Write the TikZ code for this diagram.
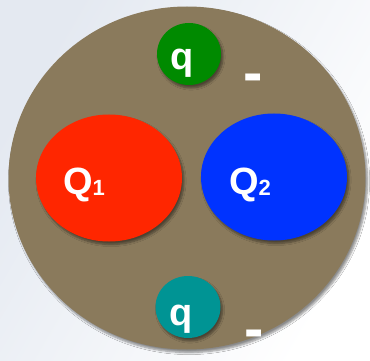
\documentclass[tikz,border=0pt]{standalone}
\usepackage{fontspec}
\setmainfont{Liberation Sans}
\usetikzlibrary{shapes.geometric,shadows.blur}
\definecolor{dish}{RGB}{138,122,92}
\definecolor{qred}{RGB}{255,38,0}
\definecolor{qblue}{RGB}{0,51,255}
\definecolor{qgreen}{RGB}{0,138,0}
\definecolor{qteal}{RGB}{0,148,148}
\definecolor{paper}{RGB}{228,233,241}
\tikzset{
  charge/.style={ellipse,inner sep=0pt,
    blur shadow={shadow xshift=2pt,shadow yshift=-3pt,shadow opacity=45,shadow blur steps=6}},
  qtext/.style={inner sep=0pt,anchor=base,text=white,font=\bfseries\fontsize{38}{38}\selectfont},
  minus/.style={inner sep=0pt,anchor=base,text=white,font=\bfseries\fontsize{58}{58}\selectfont}
}
\newcommand{\subdigit}[1]{{\fontsize{22}{22}\selectfont\raisebox{-1pt}{#1}}}

\begin{document}
\begin{tikzpicture}[x=1pt,y=-1pt]
  \shade[left color=paper,right color=white,shading angle=60](0,0)rectangle(370,361);
  \useasboundingbox(0,0)rectangle(370,361);
  % the big body
  \node[charge,fill=dish,minimum width=357pt,minimum height=343pt](body) at (187,178){};
  \node[charge,fill=qred,minimum width=146pt,minimum height=127pt](Q1) at (109,178){};
  \node[charge,fill=qblue,minimum width=146pt,minimum height=127pt](Q2) at (274,177){};
  \node[charge,fill=qgreen,minimum width=64pt,minimum height=62pt](qtop) at (189,54){};
  \node[charge,fill=qteal,minimum width=65pt,minimum height=62pt](qbot) at (188,307){};
  % labels
  \node[qtext](Q1 text) at (84,194){Q\subdigit{1}};
  \node[qtext](Q2 text) at (250,194){Q\subdigit{2}};
  \node[qtext](qtop text) at (182.5,70){q};
  \node[qtext](qbot text) at (181,325){q};
  \node[minus](mtop) at (253.5,92.5){-};
  \node[minus](mbot) at (254.5,348.5){-};
\end{tikzpicture}
\end{document}
